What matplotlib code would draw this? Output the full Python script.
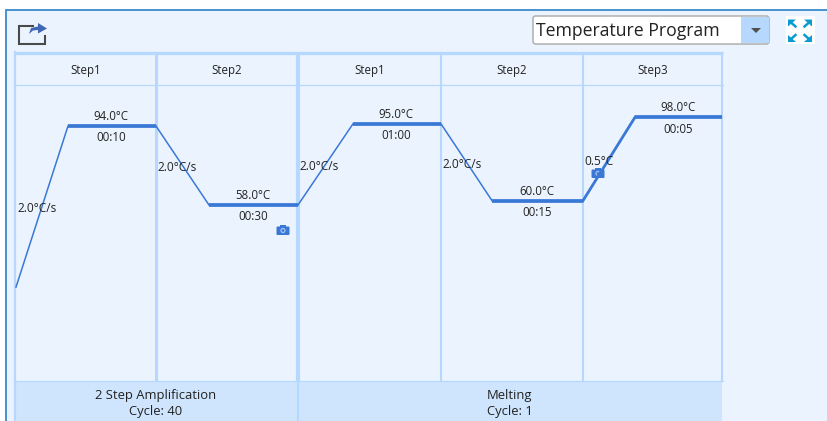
# temperature program panel
import matplotlib
matplotlib.use('Agg')
import matplotlib.pyplot as plt
from matplotlib.patches import Rectangle, FancyBboxPatch, Circle, Polygon

# Data
step_names = ['Step1', 'Step2', 'Step1', 'Step2', 'Step3']
temps = [94.0, 58.0, 95.0, 60.0, 98.0]
holds = ['00:10', '00:30', '01:00', '00:15', '00:05']
rates = ['2.0°C/s', '2.0°C/s', '2.0°C/s', '2.0°C/s', '0.5°C']
start_temp = 20.6
ramp_ends = [68, 209, 353, 492, 635]          # x where each ramp reaches the hold
step_edges = [16, 156, 298, 441, 583, 722]
snapshot_steps = [1, 4]
stages = ['2 Step Amplification', 'Melting']
cycles = ['Cycle: 40', 'Cycle: 1']
stage_edges = [14, 298, 722]
selector_text = 'Temperature Program'

BG = '#ebf4fe'
GRID = '#b6d8fe'
BAND = '#cfe5fd'
LINE = '#3a78d6'
TXT = '#222222'

plt.rcParams['font.family'] = ['Open Sans', 'DejaVu Sans']

fig = plt.figure(figsize=(8.28, 4.21), dpi=100, facecolor='white')

# pixel axes for the window furniture
ax = fig.add_axes([0, 0, 1, 1])
ax.set_xlim(0, 828)
ax.set_ylim(421, 0)
ax.axis('off')

ax.add_patch(Rectangle((6.5, 9.5), 822, 412, fc=BG, ec='#2a80c8', lw=1.2))

# table frame
ax.add_patch(Rectangle((stage_edges[0], 381), stage_edges[-1] - stage_edges[0], 40, fc=BAND, ec='none'))
ax.plot([14, 723], [52.5, 52.5], color=GRID, lw=2.4, solid_capstyle='butt')
ax.plot([14, 723], [85, 85], color=GRID, lw=0.9)
ax.plot([14, 723], [381, 381], color=GRID, lw=0.9)
ax.plot([15, 15], [52, 421], color=GRID, lw=1.6)
widths = [None, 2.2, 3.0, 1.5, 1.5, 1.5]
for x, w in zip(step_edges[1:], widths[1:]):
    ax.plot([x, x], [52, 381], color=GRID, lw=w, solid_capstyle='butt')
ax.plot([298, 298], [381, 421], color=GRID, lw=1.5)

for i, name in enumerate(step_names):
    ax.text((step_edges[i] + step_edges[i + 1]) / 2, 70.5, name, ha='center', va='center',
            fontsize=8.3, color=TXT)
for i in range(2):
    xc = (stage_edges[i] + stage_edges[i + 1]) / 2
    ax.text(xc, 395, stages[i], ha='center', va='center', fontsize=9.4, color=TXT)
    ax.text(xc, 411, cycles[i], ha='center', va='center', fontsize=9.4, color=TXT)

# share icon
ax.plot([33, 19.5, 19.5, 45.5, 45.5], [25.5, 25.5, 43.5, 43.5, 36], color='#4a4a4a', lw=1.5,
        solid_joinstyle='miter')
ax.add_patch(Polygon([(29, 34), (31, 28), (38, 26.5), (38, 23), (47, 28.5), (38, 33.5), (38, 30), (33, 30.5)],
                     fc='#3f67b5', ec='none'))

# selector
ax.add_patch(FancyBboxPatch((533, 16), 236, 28, boxstyle='round,pad=0,rounding_size=2.5', fc='white',
                            ec='#a8a8a8', lw=1.0))
ax.add_patch(Rectangle((741, 16.6), 27.6, 26.8, fc=GRID, ec='none'))
ax.add_patch(Polygon([(751, 28), (761, 28), (756, 33)], fc='#4f4f4f', ec='none'))
ax.text(536, 31.5, selector_text, ha='left', va='center', fontsize=12.7, color=TXT)

# expand icon
ax.add_patch(Rectangle((786, 16), 29, 28, fc='white', ec='none'))
arrow_c = '#0b9bd2'
for cx, cy, sx, sy in [(788, 19.5, 1, 1), (812, 19.5, -1, 1), (788, 42, 1, -1), (812, 42, -1, -1)]:
    ax.add_patch(Polygon([(cx, cy), (cx + sx * 8, cy), (cx, cy + sy * 7)], fc=arrow_c, ec='none'))
    ax.plot([cx + sx * 3, cx + sx * 7.5], [cy + sy * 3, cy + sy * 7], color=arrow_c, lw=1.8)

# chart axes: x in panel pixels, y in degrees C
cx0, cx1 = step_edges[0], step_edges[-1]
plot = fig.add_axes([cx0 / 828, 1 - 381 / 421, (cx1 - cx0) / 828, (381 - 85) / 421])
plot.patch.set_alpha(0)
plot.axis('off')
plot.set_xlim(cx0, cx1)
plot.set_ylim(-22.2, 112.7)

prev = start_temp
for i in range(5):
    x0, x1 = step_edges[i], step_edges[i + 1]
    t = temps[i]
    plot.plot([x0, ramp_ends[i]], [prev, t], color=LINE, lw=2.0 if i == 4 else 1.1, clip_on=False)
    plot.plot([ramp_ends[i], x1], [t, t], color=LINE, lw=2.7, solid_capstyle='butt', clip_on=False)
    xc = (ramp_ends[i] + x1) / 2
    plot.annotate(f'{t:.1f}°C', (xc, t), xytext=(-0.5, 6.8), textcoords='offset points', ha='center',
                  va='center', fontsize=8.3, color=TXT)
    plot.annotate(holds[i], (xc, t), xytext=(-0.5, -8.6), textcoords='offset points', ha='center',
                  va='center', fontsize=8.3, color=TXT)
    plot.annotate(rates[i], (x0, (prev + t) / 2), xytext=(0.7, -1.5), textcoords='offset points', ha='left',
                  va='center', fontsize=8.6, color=TXT)
    prev = t


def camera(x, y):
    ax.add_patch(FancyBboxPatch((x - 6.5, y - 4), 13, 8.5, boxstyle='round,pad=0,rounding_size=1', fc=LINE,
                                ec='none', zorder=5))
    ax.add_patch(Rectangle((x - 3, y - 6), 6, 3, fc=LINE, ec='none', zorder=5))
    ax.add_patch(Circle((x, y), 2.6, fc='#a9c6ee', ec='none', zorder=6))
    ax.add_patch(Circle((x, y), 1.4, fc=LINE, ec='none', zorder=7))


camera(283, 230.5)
camera(598, 173.5)

plt.savefig('out.png', dpi=100, facecolor='white')
